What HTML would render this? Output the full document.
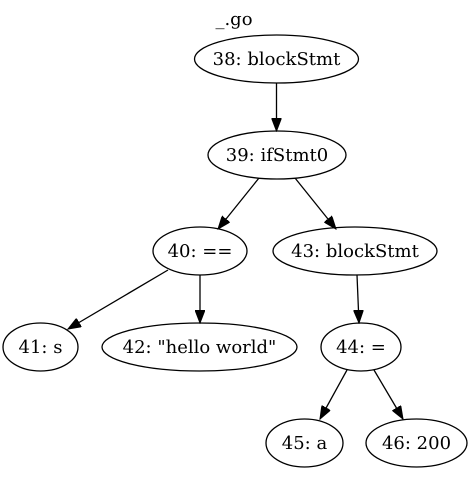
<!DOCTYPE html>
<html><head><meta charset="utf-8"><style>
html,body{margin:0;padding:0;background:#fff;width:473px;height:489px;overflow:hidden}
text{font-family:"DejaVu Serif",serif;font-size:18px;fill:#000}
</style></head><body>
<svg width="473" height="489" viewBox="0 0 473 489" xmlns="http://www.w3.org/2000/svg">
<defs><marker id="a" markerUnits="userSpaceOnUse" markerWidth="14" markerHeight="10" refX="13" refY="5" orient="auto"><path d="M0,0 L13,5 L0,10 Z" fill="#000" stroke="#000"/></marker></defs>
<text x="234" y="25" text-anchor="middle">_.go</text>
<g fill="none" stroke="#000" stroke-width="1.3">
<ellipse cx="276.5" cy="59" rx="82" ry="24"/>
<ellipse cx="277" cy="155" rx="69" ry="24"/>
<ellipse cx="200" cy="251" rx="47" ry="24"/>
<ellipse cx="355" cy="251" rx="82" ry="24"/>
<ellipse cx="40.5" cy="347" rx="37.5" ry="24"/>
<ellipse cx="199.5" cy="347" rx="97.5" ry="24"/>
<ellipse cx="361" cy="347" rx="40" ry="24"/>
<ellipse cx="304.5" cy="443" rx="38.5" ry="24"/>
<ellipse cx="416.5" cy="443" rx="50.5" ry="24"/>
<line x1="276.5" y1="83" x2="276.5" y2="131" marker-end="url(#a)"/>
<line x1="259" y1="178" x2="218" y2="229" marker-end="url(#a)"/>
<line x1="295" y1="178" x2="336" y2="229" marker-end="url(#a)"/>
<line x1="168" y1="270" x2="68" y2="329" marker-end="url(#a)"/>
<line x1="200" y1="275" x2="200" y2="323" marker-end="url(#a)"/>
<line x1="357" y1="275" x2="359" y2="323" marker-end="url(#a)"/>
<line x1="347" y1="370" x2="320" y2="419" marker-end="url(#a)"/>
<line x1="374" y1="370" x2="403" y2="419" marker-end="url(#a)"/>
</g>
<g text-anchor="middle">
<text x="276.5" y="65">38: blockStmt</text>
<text x="277" y="161">39: ifStmt0</text>
<text x="200" y="257">40: ==</text>
<text x="355" y="257">43: blockStmt</text>
<text x="40.5" y="353">41: s</text>
<text x="199.5" y="353">42: "hello world"</text>
<text x="361" y="353">44: =</text>
<text x="304.5" y="449">45: a</text>
<text x="416.5" y="449">46: 200</text>
</g>
</svg>
</body></html>
